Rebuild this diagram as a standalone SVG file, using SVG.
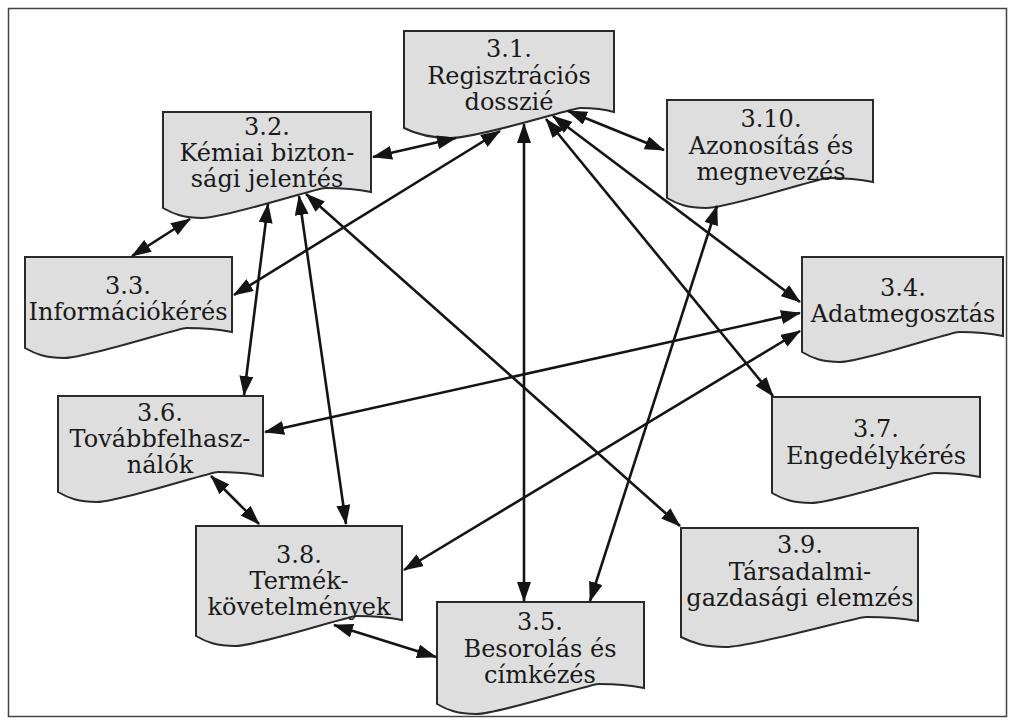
<svg xmlns="http://www.w3.org/2000/svg" width="1009" height="724" viewBox="0 0 1009 724">
<defs>
<style>
.box{fill:#dedede;stroke:#2a2a2a;stroke-width:2;stroke-linejoin:miter}
.t{font-family:"DejaVu Serif","Liberation Serif",serif;font-size:24px;fill:#1a1a1a;text-anchor:middle}
.c{stroke:#141414;stroke-width:2.6;fill:none;marker-start:url(#ah);marker-end:url(#ah)}
</style>
<marker id="ah" markerUnits="userSpaceOnUse" viewBox="0 0 20 14" markerWidth="20" markerHeight="14" refX="19" refY="7" orient="auto-start-reverse">
<path d="M0,0 L20,7 L0,14 Z" fill="#141414"/>
</marker>
</defs>
<rect x="8.5" y="8.5" width="998" height="708" fill="#ffffff" stroke="#444" stroke-width="1.5"/>

<g id="n31">
<path class="box" d="M404,31 H614 V112 C604,109 592,108 580,108 C572,108 480,138 450,138 C430,138 416,134 404,128 Z"/>
<text class="t" x="509" y="57">3.1.</text>
<text class="t" x="509" y="84">Regisztrációs</text>
<text class="t" x="509" y="110">dosszié</text>
</g>
<g id="n32">
<path class="box" d="M163,112 H371 V192 C356.4,189 339.8,188 325.2,188 C316.9,188 225.4,218 202.5,218 C183.8,218 173.4,214 163,208 Z"/>
<text class="t" x="267" y="135">3.2.</text>
<text class="t" x="267" y="161">Kémiai bizton-</text>
<text class="t" x="267" y="187">sági jelentés</text>
</g>
<g id="n310">
<path class="box" d="M667,100 H873 V182 C858.6,179 842.1,178 827.7,178 C819.4,178 728.8,208 706.1,208 C687.6,208 677.3,204 667,198 Z"/>
<text class="t" x="771" y="127">3.10.</text>
<text class="t" x="771" y="154">Azonosítás és</text>
<text class="t" x="771" y="180">megnevezés</text>
</g>
<g id="n33">
<path class="box" d="M25,257 H232 V332 C217.5,329 201,328 186.5,328 C178.2,328 87.1,358 64.3,358 C45.7,358 35.4,354 25,348 Z"/>
<text class="t" x="128" y="294">3.3.</text>
<text class="t" x="128" y="320">Információkérés</text>
</g>
<g id="n34">
<path class="box" d="M802,257 H1003 V336 C988.9,333 972.9,332 958.8,332 C950.7,332 862.3,362 840.2,362 C822.1,362 812,358 802,352 Z"/>
<text class="t" x="903" y="296">3.4.</text>
<text class="t" x="903" y="322">Adatmegosztás</text>
</g>
<g id="n36">
<path class="box" d="M58,396 H263 V476 C248.7,473 232.3,472 217.9,472 C209.7,472 119.5,502 97,502 C78.5,502 68.3,498 58,492 Z"/>
<text class="t" x="160" y="421">3.6.</text>
<text class="t" x="160" y="447">Továbbfelhasz-</text>
<text class="t" x="160" y="473">nálók</text>
</g>
<g id="n37">
<path class="box" d="M772,397 H980 V477 C965.4,474 948.8,473 934.2,473 C925.9,473 834.4,503 811.5,503 C792.8,503 782.4,499 772,493 Z"/>
<text class="t" x="876" y="437">3.7.</text>
<text class="t" x="876" y="464">Engedélykérés</text>
</g>
<g id="n38">
<path class="box" d="M196,526 H402 V620 C387.6,617 371.1,616 356.7,616 C348.4,616 257.8,646 235.1,646 C216.6,646 206.3,642 196,636 Z"/>
<text class="t" x="299" y="563">3.8.</text>
<text class="t" x="299" y="589">Termék-</text>
<text class="t" x="299" y="615">követelmények</text>
</g>
<g id="n35">
<path class="box" d="M437,602 H644 V688 C629.5,685 613,684 598.5,684 C590.2,684 499.1,714 476.3,714 C457.7,714 447.4,710 437,704 Z"/>
<text class="t" x="540" y="630">3.5.</text>
<text class="t" x="540" y="657">Besorolás és</text>
<text class="t" x="540" y="683">címkézés</text>
</g>
<g id="n39">
<path class="box" d="M681,528 H918 V621 C901.4,618 882.5,617 865.9,617 C856.4,617 752.1,647 726,647 C704.7,647 692.9,643 681,637 Z"/>
<text class="t" x="800" y="553">3.9.</text>
<text class="t" x="800" y="580">Társadalmi-</text>
<text class="t" x="800" y="606">gazdasági elemzés</text>
</g>

<g id="connectors">
<line class="c" x1="373" y1="157" x2="456" y2="138"/>
<line class="c" x1="234" y1="295" x2="500" y2="131"/>
<line class="c" x1="132" y1="256" x2="190" y2="219"/>
<line class="c" x1="524" y1="124" x2="524" y2="601"/>
<line class="c" x1="568" y1="111" x2="664" y2="150"/>
<line class="c" x1="553" y1="116" x2="800" y2="302"/>
<line class="c" x1="546" y1="119" x2="773" y2="396"/>
<line class="c" x1="268" y1="204" x2="244" y2="395"/>
<line class="c" x1="299" y1="196" x2="346" y2="524"/>
<line class="c" x1="306" y1="194" x2="680" y2="526"/>
<line class="c" x1="717" y1="206" x2="590" y2="601"/>
<line class="c" x1="800" y1="313" x2="265" y2="432"/>
<line class="c" x1="800" y1="331" x2="404" y2="570"/>
<line class="c" x1="211" y1="476" x2="259" y2="524"/>
<line class="c" x1="334" y1="625" x2="436" y2="657"/>
</g>
</svg>
